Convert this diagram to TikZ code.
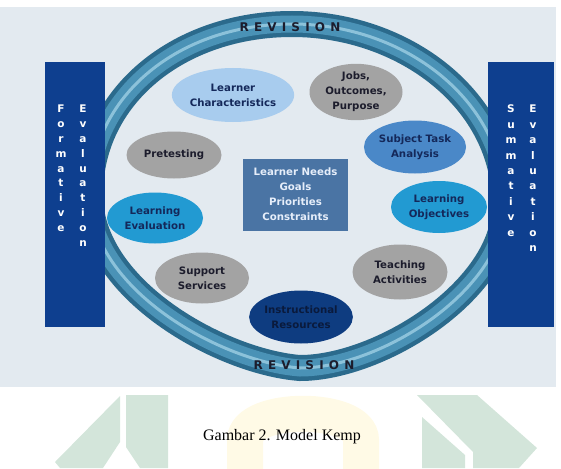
\documentclass[tikz,border=0pt]{standalone}
\usepackage{fontspec}
\setmainfont{DejaVu Sans}
\newfontfamily\capfont{Liberation Serif}
\newfontfamily\revfont[LetterSpace=43]{DejaVu Sans}
\usepackage{tikz}
\usetikzlibrary{shapes.geometric}
\definecolor{panel}{HTML}{E3EAF0}
\definecolor{bar}{HTML}{0E3F8F}
\definecolor{tubedark}{HTML}{2B6A8C}
\definecolor{tube}{HTML}{4A92B6}
\definecolor{tubelight}{HTML}{8CC2DA}
\definecolor{navy}{HTML}{14285A}
\definecolor{inkdark}{HTML}{1C1C2C}
\definecolor{grayblob}{HTML}{A3A3A3}
\definecolor{paleblue}{HTML}{A8CCEE}
\definecolor{midblue}{HTML}{4A88C8}
\definecolor{cyanblue}{HTML}{229AD2}
\definecolor{deepblue}{HTML}{0E3C80}
\definecolor{deepink}{HTML}{0A1A3C}
\definecolor{boxblue}{HTML}{4A74A4}
\definecolor{boxtext}{HTML}{E6EEFA}
\definecolor{wmgreen}{HTML}{D3E5DA}
\definecolor{wmyellow}{HTML}{FFFAE6}

\begin{document}
\begin{tikzpicture}[x=1pt,y=-1pt,
  blob/.style={ellipse,minimum width=95pt,minimum height=53pt,inner sep=0pt,align=center,
    text=navy,font=\bfseries\fontsize{10.2}{15}\selectfont},
  letters/.style={anchor=north,inner sep=0pt,align=center,text=white,
    font=\bfseries\fontsize{10.5}{14.8}\selectfont},
  revision/.style={text=inkdark,font=\revfont\bfseries\fontsize{12}{14}\selectfont}]
  \useasboundingbox (0,0) rectangle (561,468);
  % watermark below the picture
  \fill[wmgreen] (55,462) -- (120,396) -- (120,442) -- (103,468) -- (60,468) -- cycle;
  \fill[wmgreen] (126,395) -- (168,395) -- (168,468) -- (140,468) -- (126,447) -- cycle;
  \fill[wmgreen] (417,395) -- (477,395) -- (537,448) -- (519,468) -- (473,468) -- (473,452) -- cycle;
  \fill[wmgreen] (422,417) -- (465,455) -- (465,468) -- (422,468) -- cycle;
  \draw[wmyellow,line width=36pt] (245,470) -- (245,440) .. controls (245,405) and (361,405) .. (361,440) -- (361,470);
  \node[font=\capfont\fontsize{16}{18}\selectfont] (cap) at (282,437) {Gambar 2. Model Kemp};

  \fill[panel] (0,7) rectangle (556,387);
  % the revision ring
  \draw[tubedark,line width=26pt,postaction={draw,tube,line width=17pt},
    postaction={draw,tubelight,line width=3pt}]
    (90,195) .. controls (90,95) and (180,24) .. (292,24)
    .. controls (404,24) and (505,100) .. (505,205)
    .. controls (505,290) and (380,368) .. (300,368)
    .. controls (222,362) and (90,290) .. (90,195) -- cycle;
  \node[revision] (revtop) at (290,27) {REVISION};
  \node[revision] (revbot) at (304,365) {REVISION};

  % evaluation bars
  \node[fill=bar,minimum width=60pt,minimum height=265pt,inner sep=0pt] (formbar) at (75,194.5) {};
  \node[fill=bar,minimum width=66pt,minimum height=265pt,inner sep=0pt] (sumbar) at (521,194.5) {};
  \node[letters] (form) at (61,105) {F\\o\\r\\m\\a\\t\\i\\v\\e};
  \node[letters] (evalL) at (83,105) {E\\v\\a\\l\\u\\a\\t\\i\\o\\n};
  \node[letters,font=\bfseries\fontsize{10.5}{15.4}\selectfont] (summ) at (511,105) {S\\u\\m\\m\\a\\t\\i\\v\\e};
  \node[letters,font=\bfseries\fontsize{10.5}{15.4}\selectfont] (evalR) at (533,105) {E\\v\\a\\l\\u\\a\\t\\i\\o\\n};

  % steps round the needs box
  \node[blob,fill=paleblue,minimum height=54pt] (learner) at (233,95) {Learner\\Characteristics};
  \node[blob,fill=grayblob,text=inkdark,minimum width=93pt] (jobs) at (356,92) {Jobs,\\Outcomes,\\Purpose};
  \node[blob,fill=midblue,minimum width=96pt] (subject) at (415,147) {Subject Task\\Analysis};
  \node[blob,fill=cyanblue,minimum width=96pt,minimum height=52pt] (objectives) at (439,207) {Learning\\Objectives};
  \node[blob,fill=grayblob,text=inkdark,minimum height=55pt] (teaching) at (400,272) {Teaching\\Activities};
  \node[blob,fill=deepblue,text=deepink,minimum width=97pt] (resources) at (301,317) {Instructional\\Resources};
  \node[blob,fill=grayblob,text=inkdark,minimum width=94pt,minimum height=51pt] (support) at (202,278) {Support\\Services};
  \node[blob,fill=cyanblue,minimum width=96pt,minimum height=51pt] (evaluation) at (155,218) {Learning\\Evaluation};
  \node[blob,fill=grayblob,text=inkdark,minimum height=47pt] (pretest) at (174,155) {Pretesting};

  \node[fill=boxblue,text=boxtext,minimum width=105pt,minimum height=72pt,inner sep=0pt,align=center,
    font=\bfseries\fontsize{10.2}{15}\selectfont] (needs) at (295.5,194.5) {Learner Needs\\Goals\\Priorities\\Constraints};
\end{tikzpicture}
\end{document}
